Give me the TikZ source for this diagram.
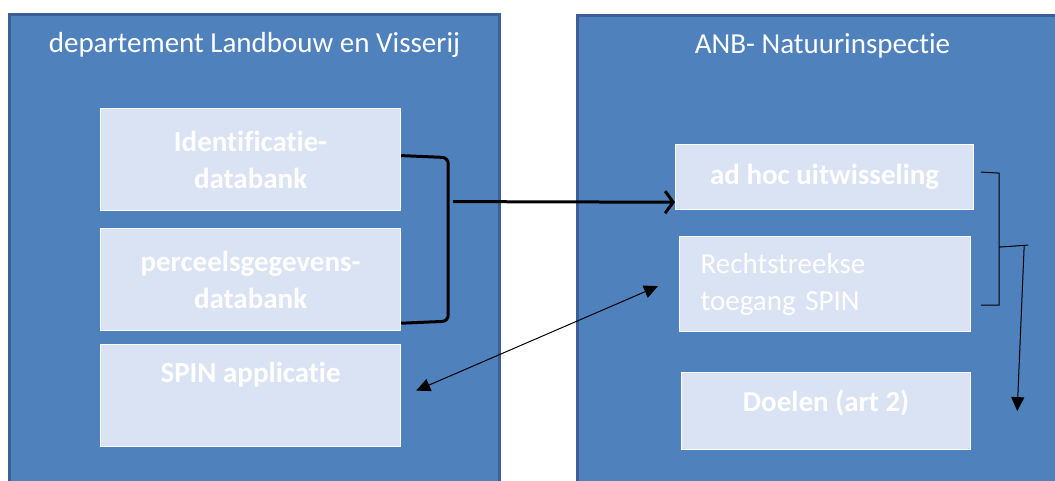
\documentclass[tikz,border=0pt]{standalone}
\usepackage{fontspec}
\setmainfont{Carlito}[Ligatures=CommonOff]
\usetikzlibrary{arrows.meta,calc}
\definecolor{panelblue}{HTML}{4F81BD}
\definecolor{paneledge}{HTML}{3B5F96}
\definecolor{boxfill}{HTML}{DAE3F3}
\tikzset{
  panel/.style={draw=paneledge,line width=3pt,fill=panelblue,anchor=north west,
    inner sep=0pt,minimum width=490pt,minimum height=500pt},
  ptitle/.style={text=white,font=\fontsize{29}{33}\selectfont,anchor=center},
  dbbox/.style={draw=white,line width=1.2pt,fill=boxfill,anchor=north west,inner sep=0pt,
    text=white,align=center,font=\fontsize{29}{37}\selectfont\bfseries},
  plainbox/.style={dbbox,font=\fontsize{29}{37}\selectfont},
  boxtext/.style={text=white,anchor=center,yshift=-31pt,font=\fontsize{29}{33}\selectfont\bfseries},
  bigbrace/.style={line width=3pt,rounded corners=6pt},
  bigarrow/.style={line width=3pt,-{Straight Barb[length=8pt,width=22pt,line width=3pt]}},
  thinarrow/.style={line width=1pt,-{Triangle[length=14pt,width=13pt]}}
}
\begin{document}
\begin{tikzpicture}[x=1pt,y=-1pt]
  \useasboundingbox (0,0) rectangle (1055,480);
  % the two organisations
  \node[panel,label={[ptitle,yshift=-32pt]north:departement Landbouw en Visserij}] (lv) at (8,13) {};
  \node[panel,label={[ptitle,yshift=-32pt]north:ANB- Natuurinspectie}] (anb) at (576,14) {};
  % left side
  \node[dbbox,minimum width=300pt,minimum height=102pt] (ident) at (100,108) {Identificatie-\\databank};
  \node[dbbox,minimum width=300pt,minimum height=102pt] (perceel) at (100,228) {perceelsgegevens-\\databank};
  \node[dbbox,minimum width=300pt,minimum height=102pt,
    label={[boxtext]north:SPIN applicatie}] (spin) at (100,344) {};
  % right side
  \node[dbbox,minimum width=298pt,minimum height=65pt] (adhoc) at (675,144) {ad hoc uitwisseling};
  \node[plainbox,minimum width=291pt,minimum height=95pt,text width=249pt,align=left] (rechts) at (679,236)
    {Rechtstreekse\\toegang SPIN};
  \node[dbbox,minimum width=289pt,minimum height=77pt,
    label={[boxtext]north:Doelen (art 2)}] (doel) at (681,372) {};
  % brace and arrow
  \coordinate (lbtop) at ($(ident.east)+(0,-4)$);
  \coordinate (lbbot) at ($(perceel.south east)+(0,-8)$);
  \draw[bigbrace] (lbtop) -- ++(47,2) -- ($(lbbot)+(47,-2)$) -- (lbbot);
  \draw[bigarrow] ($(lbtop)+(52,46)$) -- ($(adhoc.south west)+(0,-8)$);
  \draw[line width=1pt,{Triangle[length=14pt,width=13pt]}-{Triangle[length=14pt,width=13pt]}]
    ($(spin.east)+(15,-5)$) -- ($(rechts.west)+(-21,2)$);
  % right brace
  \coordinate (rbtop) at ($(adhoc.east)+(7,-5)$);
  \coordinate (rbbot) at ($(rechts.east)+(10,21)$);
  \coordinate (rbmid) at ($(rbtop)+(18,75)$);
  \draw[line width=1pt] (rbtop) -- ++(18,1) -- ($(rbbot)+(18,0)$) -- (rbbot);
  \draw[line width=1pt] (rbmid) -- ++(29,-2);
  \draw[thinarrow] ($(rbmid)+(25,-2)$) -- ($(doel.east)+(46,0)$);
\end{tikzpicture}
\end{document}
